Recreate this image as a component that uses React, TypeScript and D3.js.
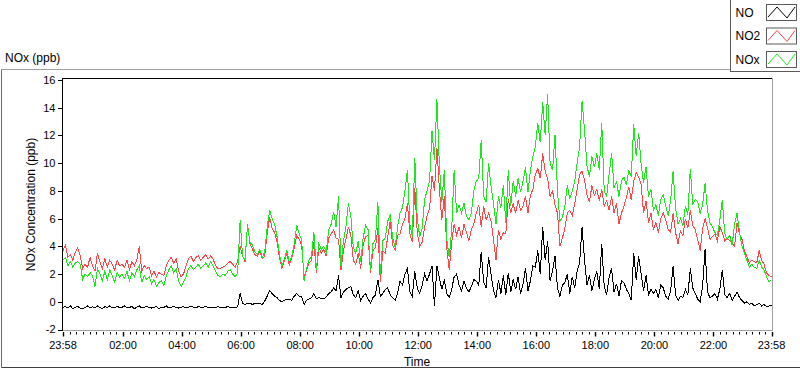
import React from 'react';
import * as d3 from 'd3';

// NOx analyser, one day, 5-minute readings starting at 23:58 (ppb)
const seriesNames = ['NO', 'NO2', 'NOx'];
const seriesColors = ['#000000', '#ff4545', '#1ee61e'];

const no = [
  -0.4, -0.35, -0.45, -0.3, -0.5, -0.4, -0.35, -0.45, -0.5, -0.4, -0.3, -0.45,
  -0.35, -0.45, -0.3, -0.4, -0.5, -0.35, -0.4, -0.3, -0.45, -0.4, -0.35, -0.4,
  -0.4, -0.3, -0.45, -0.4, -0.35, -0.5, -0.4, -0.3, -0.45, -0.4, -0.35, -0.4,
  -0.45, -0.4, -0.35, -0.5, -0.4, -0.4, -0.3, -0.45, -0.4, -0.35, -0.4, -0.45,
  -0.4, -0.35, -0.45, -0.4, -0.3, -0.4, -0.45, -0.35, -0.4, -0.4, -0.35, -0.4,
  -0.4, -0.45, -0.4, -0.35, -0.4, -0.45, -0.4, -0.35, -0.4, -0.4, -0.45, -0.35,
  0.6, -0.1, -0.2, -0.1, -0.1, -0.2, -0.1, -0.15, -0.1, -0.2, 0.05, 0.4,
  0.8, 0.6, 0.4, 0.3, 0.1, 0.0, 0.1, 0.2, 0.2, 0.1, 0.4, 0.6,
  0.4, 0.35, -0.2, 0.1, 0.2, 0.3, 0.6, 0.2, 0.3, 0.25, 0.2, 0.35,
  0.6, 0.7, 1.0, 0.8, 1.9, 0.3, 0.7, 0.9, 1.0, 1.1, 0.5, 0.3,
  0.8, 0.1, 0.4, 0.6, 0.2, -0.1, 0.3, 0.5, 1.6, 0.4, 0.6, 0.9,
  1.0, 0.5, 0.3, 0.1, 0.6, 1.5, 1.2, 2.0, 2.4, 0.7, 0.4, 2.2,
  1.0, 0.6, 1.2, 2.0, 1.5, 2.0, 2.6, -0.3, 2.6, 1.7, 0.9, 1.6,
  0.6, 0.3, 0.9, 1.8, 2.0, 1.2, 0.8, 1.5, 1.0, 0.7, 1.1, 1.6,
  1.5, 1.2, 3.6, 1.4, 1.0, 3.2, 2.0, 0.8, 0.3, 1.6, 0.6, 1.9,
  0.5, 2.1, 0.7, 1.6, 0.9, 1.8, 0.6, 1.3, 2.4, 0.8, 1.5, 2.6,
  2.5, 3.7, 2.0, 5.4, 3.0, 4.4, 1.5, 2.2, 3.3, 1.0, 0.4, 1.2,
  1.4, 2.0, 0.6, 1.8, 1.0, 2.2, 2.8, 5.4, 3.0, 1.2, 1.9, 0.8,
  1.6, 2.2, 0.9, 4.2, 1.1, 0.5, 1.8, 2.4, 0.7, 1.3, 0.4, 1.5,
  1.4, 0.9, 0.6, 0.1, 3.5, 1.6, 3.3, 2.0, 0.8, 1.9, 0.5, 0.9,
  0.6, 0.9, 0.3, 1.2, 1.0, 0.4, 0.2, 0.8, 2.6, 0.5, 0.1, 0.4,
  0.3, 0.9, 0.5, 2.4, 1.0, 0.6, 0.2, 0.0, 1.1, 3.8, 0.7, 0.3,
  0.4, 0.6, 0.2, 0.9, 2.3, 0.5, 0.3, 0.6, 0.1, 0.4, 0.7, 0.3,
  0.1, -0.1, 0.0, -0.2, -0.1, -0.3, -0.2, -0.1, -0.3, -0.2, -0.35, -0.3, -0.3,
];

const no2 = [
  3.7, 4.1, 3.2, 3.4, 3.0, 3.6, 3.9, 3.3, 2.4, 2.7, 2.5, 3.2,
  2.6, 2.2, 3.5, 2.9, 2.4, 3.1, 2.5, 3.0, 2.7, 2.3, 3.0, 2.6,
  2.7, 2.5, 3.0, 2.3, 2.9, 2.6, 3.0, 4.0, 2.2, 2.6, 2.4, 2.5,
  1.9, 2.2, 1.8, 2.1, 2.0, 1.9, 2.6, 3.0, 3.2, 2.8, 3.1, 2.2,
  1.8, 2.0, 2.6, 3.1, 3.3, 2.9, 3.2, 3.3, 3.0, 3.2, 3.4, 3.1,
  3.3, 3.1, 2.6, 2.4, 2.4, 2.5, 2.6, 2.8, 2.9, 2.7, 2.5, 2.9,
  4.0, 3.3, 2.9, 5.6, 4.2, 3.8, 3.4, 3.3, 3.6, 3.1, 3.3, 4.9,
  6.1, 5.3, 5.0, 4.3, 3.2, 2.4, 3.0, 3.5, 2.6, 3.2, 3.9, 4.8,
  4.5, 4.1, 1.8, 2.3, 2.8, 3.0, 4.3, 2.1, 3.9, 3.5, 3.8, 3.3,
  4.6, 4.9, 5.2, 4.6, 4.5, 2.3, 3.7, 4.5, 5.4, 4.8, 3.0, 2.7,
  3.5, 2.4, 4.1, 4.7, 4.8, 2.1, 3.7, 3.9, 5.3, 1.4, 3.7, 3.5,
  4.7, 5.8, 4.1, 3.7, 4.8, 4.9, 5.6, 6.0, 7.1, 4.9, 4.3, 8.2,
  5.0, 4.0, 4.3, 5.4, 6.2, 6.7, 9.1, 8.0, 11.1, 8.1, 5.9, 7.6,
  3.9, 2.3, 4.3, 5.6, 4.8, 5.4, 4.6, 5.6, 5.0, 4.4, 5.2, 5.6,
  6.4, 7.0, 5.4, 6.9, 5.9, 6.4, 5.8, 4.5, 3.0, 5.2, 4.5, 5.0,
  4.9, 7.4, 6.4, 7.1, 6.4, 7.3, 6.6, 6.9, 7.6, 6.4, 7.7, 8.1,
  9.2, 9.6, 8.9, 10.7, 9.4, 8.9, 7.6, 8.0, 7.0, 6.4, 4.0, 4.6,
  5.3, 6.4, 6.6, 6.2, 7.1, 8.1, 9.2, 9.4, 8.8, 7.7, 7.2, 8.4,
  7.7, 8.1, 7.3, 8.1, 6.9, 7.3, 6.6, 7.6, 6.4, 7.1, 5.6, 6.4,
  6.9, 7.5, 8.3, 7.35, 8.7, 9.3, 9.0, 8.5, 6.4, 7.3, 5.7, 6.4,
  5.2, 5.7, 5.0, 6.0, 6.4, 5.9, 5.2, 5.0, 6.4, 5.0, 4.2, 5.1,
  4.8, 6.0, 5.3, 6.6, 5.5, 5.2, 4.5, 3.7, 5.3, 6.0, 5.3, 4.5,
  4.7, 4.9, 4.4, 5.4, 5.0, 4.4, 4.6, 4.4, 4.2, 4.0, 5.7, 4.9,
  4.5, 3.7, 3.25, 2.8, 3.0, 2.9, 2.8, 3.7, 3.0, 2.7, 2.05, 1.9, 1.8,
];

const nox = [
  3.0, 3.2, 2.6, 2.9, 2.5, 2.8, 2.9, 2.7, 1.6, 2.0, 1.8, 2.1,
  1.9, 1.1, 2.4, 2.0, 1.5, 2.2, 1.6, 2.3, 1.9, 1.4, 2.1, 1.8,
  2.0, 1.7, 2.2, 1.5, 2.1, 1.8, 2.3, 2.6, 1.4, 1.9, 1.6, 1.8,
  1.3, 1.6, 1.1, 1.4, 1.5, 1.2, 1.9, 2.3, 2.6, 2.1, 2.4, 1.5,
  1.1, 1.4, 1.8, 2.4, 2.6, 2.3, 2.5, 2.7, 2.4, 2.6, 2.8, 2.5,
  2.9, 2.6, 2.2, 1.9, 1.8, 2.0, 1.9, 2.2, 2.3, 2.0, 1.8, 2.1,
  5.9, 3.3, 3.0, 5.5, 4.3, 4.1, 3.6, 3.4, 3.8, 3.2, 3.6, 5.4,
  6.6, 6.0, 5.6, 4.7, 3.4, 2.6, 3.1, 3.7, 2.8, 3.3, 4.2, 5.5,
  4.9, 4.5, 1.5, 2.4, 3.0, 3.3, 5.0, 2.3, 4.2, 3.8, 4.0, 3.6,
  5.2, 5.6, 6.5, 5.4, 7.6, 2.6, 4.4, 5.4, 7.1, 6.2, 3.9, 3.5,
  4.4, 2.9, 4.6, 5.5, 5.2, 2.3, 4.2, 4.5, 7.2, 2.0, 4.4, 4.6,
  5.8, 6.3, 4.6, 3.9, 5.4, 6.4, 6.8, 8.0, 9.5, 5.6, 4.7, 10.4,
  6.0, 4.7, 5.3, 7.4, 8.0, 8.7, 12.3, 10.2, 14.6, 9.8, 7.2, 9.5,
  4.5, 3.2, 5.2, 9.5, 6.4, 7.0, 6.4, 7.1, 6.2, 5.9, 6.4, 8.0,
  8.7, 8.9, 11.7, 7.6, 7.2, 10.0, 8.3, 7.1, 5.6, 7.6, 6.8, 8.4,
  5.7, 9.5, 6.9, 8.7, 7.6, 8.9, 7.9, 8.7, 9.7, 7.9, 9.5, 10.5,
  11.2, 12.9, 11.5, 14.4, 12.0, 15.0, 10.0, 9.5, 12.0, 8.0, 5.8, 6.1,
  6.9, 8.4, 7.4, 8.0, 8.7, 10.0, 11.2, 14.5, 12.4, 9.8, 9.0, 10.5,
  9.7, 10.7, 9.5, 12.9, 8.0, 7.6, 9.2, 10.7, 8.2, 8.7, 7.6, 8.7,
  9.0, 8.4, 9.5, 9.0, 12.8, 10.5, 12.2, 9.9, 8.6, 9.75, 7.6, 8.1,
  6.6, 7.0, 6.2, 7.4, 7.7, 6.9, 6.2, 7.3, 9.4, 6.8, 5.6, 6.0,
  5.5, 6.9, 6.3, 9.6, 7.0, 7.4, 7.2, 6.4, 7.0, 8.55, 6.6, 5.7,
  5.4, 5.0, 4.8, 5.9, 7.35, 4.9, 4.5, 4.8, 4.1, 5.6, 6.4, 5.0,
  4.0, 3.5, 3.0, 2.5, 2.7, 2.5, 2.4, 3.0, 2.5, 2.3, 1.8, 1.45, 1.6,
];

const stepMinutes = 5;
const yTicks = [-2, 0, 2, 4, 6, 8, 10, 12, 14, 16];
const timeTickMinutes = [0, 122, 242, 362, 482, 602, 722, 842, 962, 1082, 1202, 1322, 1440];
const timeTickLabels = ['23:58', '02:00', '04:00', '06:00', '08:00', '10:00', '12:00',
  '14:00', '16:00', '18:00', '20:00', '22:00', '23:58'];

const FONT = '"Liberation Sans", Arial, sans-serif';

export default function App() {
  const plot = { left: 62, top: 78, right: 772, bottom: 330 };

  const x = d3.scaleLinear().domain([0, 1440]).range([63, 771.5]);
  const y = d3.scaleLinear().domain([-2, 16]).range([329.5, 80]);

  const line = d3.line<number>()
    .x((d, i) => x(i * stepMinutes))
    .y(d => y(d));

  // 8 minor ticks between each pair of labelled ticks
  const minorTicks: number[] = [];
  for (let k = 0; k < timeTickMinutes.length - 1; k++) {
    const a = timeTickMinutes[k], b = timeTickMinutes[k + 1];
    for (let j = 1; j < 9; j++) minorTicks.push(a + (b - a) * j / 9);
  }

  const series = [no, no2, nox];

  return (
    <svg width={800} height={369} style={{ position: 'absolute', left: 0, top: 0, background: '#fff' }}
      fontFamily={FONT}>
      <defs>
        <clipPath id="plotClip">
          <rect x={plot.left + 1} y={plot.top + 1} width={plot.right - plot.left - 1} height={plot.bottom - plot.top - 1} />
        </clipPath>
      </defs>

      {/* outer frame */}
      <line x1={1.5} y1={69.5} x2={800} y2={69.5} stroke="#a0a0a0" />
      <line x1={1.5} y1={69.5} x2={1.5} y2={367.5} stroke="#6a6a6a" />
      <line x1={1.5} y1={367.5} x2={800} y2={367.5} stroke="#404040" />

      <text x={5} y={62} fontSize={12} fill="#000">NOx (ppb)</text>

      {/* legend */}
      <rect x={730.5} y={-1} width={72} height={72.5} fill="#fff" stroke="#5a5a5a" />
      {seriesNames.map((name, i) => {
        const top = 4 + i * 23.5;
        return (
          <g key={name}>
            <text x={735.5} y={top + 12.7} fontSize={12} fill="#000">{name}</text>
            <rect x={766.5} y={top + 0.5} width={30} height={16} fill="#fff" stroke="#5a5a5a" />
            <polyline points={`768,${top + 13} 777,${top + 3} 787,${top + 14} 795,${top + 3}`}
              fill="none" stroke={seriesColors[i]} strokeWidth={1} />
          </g>
        );
      })}

      {/* plot area */}
      <rect x={plot.left} y={plot.top} width={plot.right - plot.left} height={plot.bottom - plot.top} fill="#fff" />
      <g clipPath="url(#plotClip)">
        {series.map((s, i) => (
          <path key={seriesNames[i]} d={line(s) || ''} fill="none" stroke={seriesColors[i]}
            strokeWidth={1} shapeRendering="crispEdges" />
        ))}
      </g>
      <line x1={plot.left} y1={plot.top + 0.5} x2={plot.right} y2={plot.top + 0.5} stroke="#000" />
      <line x1={plot.right + 0.5} y1={plot.top} x2={plot.right + 0.5} y2={plot.bottom} stroke="#a0a0a0" />
      <line x1={plot.left} y1={plot.bottom + 0.5} x2={plot.right + 1} y2={plot.bottom + 0.5} stroke="#a0a0a0" />
      <line x1={plot.left + 0.5} y1={plot.top} x2={plot.left + 0.5} y2={plot.bottom + 1} stroke="#000" />

      {/* y axis */}
      {yTicks.map(t => (
        <g key={t}>
          <line x1={58} x2={62} y1={Math.round(y(t)) + 0.5} y2={Math.round(y(t)) + 0.5} stroke="#000" />
          <text x={55.5} y={y(t)} dy="0.36em" textAnchor="end" fontSize={11} fill="#000">{t}</text>
        </g>
      ))}
      <text transform="translate(35,204.5) rotate(-90)" textAnchor="middle" fontSize={12} fill="#000">
        NOx Concentration (ppb)
      </text>

      {/* x axis */}
      {minorTicks.map((m, i) => (
        <line key={i} x1={Math.round(x(m)) + 0.5} x2={Math.round(x(m)) + 0.5} y1={332} y2={334.5}
          stroke="#000" />
      ))}
      {timeTickMinutes.map((m, i) => (
        <g key={i}>
          <line x1={Math.round(x(m)) + 0.5} x2={Math.round(x(m)) + 0.5} y1={332} y2={336.5}
            stroke="#000" strokeWidth={1.4} />
          <text x={x(m)} y={349} textAnchor="middle" fontSize={11} fill="#000">{timeTickLabels[i]}</text>
        </g>
      ))}
      <text x={417} y={365.5} textAnchor="middle" fontSize={12} fill="#000">Time</text>
    </svg>
  );
}
